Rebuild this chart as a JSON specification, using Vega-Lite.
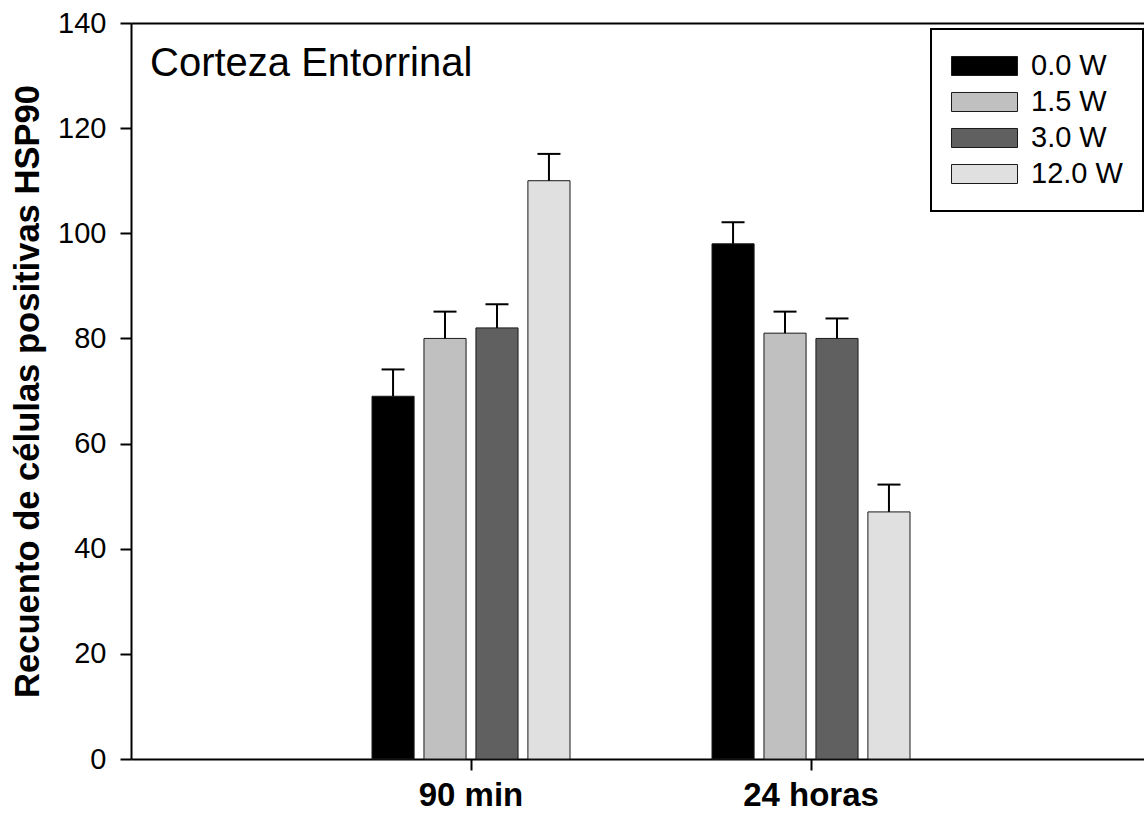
{
  "$schema": "https://vega.github.io/schema/vega-lite/v6.json",
  "autosize": {"type": "none"},
  "padding": {"left": 131, "top": 23, "right": 0, "bottom": 59},
  "width": 1013,
  "height": 736,
  "background": "white",
  "config": {
    "view": {"stroke": null},
    "font": "Liberation Sans",
    "axis": {
      "domainColor": "black",
      "domainWidth": 2,
      "tickColor": "black",
      "tickWidth": 2,
      "tickSize": 11,
      "labelColor": "black",
      "titleColor": "black",
      "labelFont": "Liberation Sans",
      "titleFont": "Liberation Sans",
      "grid": false
    },
    "legend": {
      "orient": "none",
      "legendX": 800,
      "legendY": 6,
      "padding": 20,
      "strokeColor": "black",
      "strokeWidth": 2,
      "fillColor": "white",
      "symbolType": "M-1,-0.288H1V0.288H-1Z",
      "symbolSize": 4356,
      "symbolStrokeColor": "#1a1a1a",
      "symbolStrokeWidth": 1,
      "symbolOpacity": 1,
      "clipHeight": 34,
      "rowPadding": 2,
      "labelFont": "Liberation Sans",
      "labelFontSize": 29,
      "labelColor": "black",
      "labelOffset": 13,
      "labelLimit": 300
    }
  },
  "datasets": {
    "medidas": [
      {"tiempo": "90 min", "potencia": "0.0 W", "valor": 69, "sup": 74.1},
      {"tiempo": "90 min", "potencia": "1.5 W", "valor": 80, "sup": 85.1},
      {"tiempo": "90 min", "potencia": "3.0 W", "valor": 82, "sup": 86.5},
      {"tiempo": "90 min", "potencia": "12.0 W", "valor": 110, "sup": 115.1},
      {"tiempo": "24 horas", "potencia": "0.0 W", "valor": 98, "sup": 102.1},
      {"tiempo": "24 horas", "potencia": "1.5 W", "valor": 81, "sup": 85.1},
      {"tiempo": "24 horas", "potencia": "3.0 W", "valor": 80, "sup": 83.8},
      {"tiempo": "24 horas", "potencia": "12.0 W", "valor": 47, "sup": 52.2}
    ],
    "rotulo": [
      {"texto": "Corteza Entorrinal", "nivel": 129.9}
    ]
  },
  "layer": [
    {
      "data": {"name": "medidas"},
      "mark": {"type": "bar", "stroke": "#1a1a1a", "strokeWidth": 1},
      "encoding": {
        "x": {
          "field": "tiempo",
          "type": "nominal",
          "sort": ["90 min", "24 horas"],
          "scale": {"range": [0, 1020], "paddingInner": 0, "paddingOuter": 0.5},
          "axis": {
            "orient": "bottom",
            "title": null,
            "labelAngle": 0,
            "labelFontSize": 33,
            "labelFontWeight": "bold",
            "labelPadding": 9,
            "labelBaseline": "top"
          }
        },
        "xOffset": {
          "field": "potencia",
          "type": "nominal",
          "sort": ["0.0 W", "1.5 W", "3.0 W", "12.0 W"],
          "scale": {"range": [71, 269], "paddingInner": 0.19, "paddingOuter": 0}
        },
        "y": {
          "field": "valor",
          "type": "quantitative",
          "scale": {"domain": [0, 140], "nice": false, "zero": true},
          "axis": {
            "title": "Recuento de células positivas HSP90",
            "values": [0, 20, 40, 60, 80, 100, 120, 140],
            "labelFontSize": 29,
            "labelPadding": 14,
            "titleFontSize": 34.6,
            "titleFontWeight": "bold",
            "titlePadding": 12
          }
        },
        "color": {
          "field": "potencia",
          "type": "nominal",
          "sort": ["0.0 W", "1.5 W", "3.0 W", "12.0 W"],
          "scale": {
            "domain": ["0.0 W", "1.5 W", "3.0 W", "12.0 W"],
            "range": ["#000000", "#c0c0c0", "#606060", "#e0e0e0"]
          },
          "legend": {"title": null}
        }
      }
    },
    {
      "data": {"name": "medidas"},
      "mark": {"type": "rule", "color": "black", "strokeWidth": 2},
      "encoding": {
        "x": {
          "field": "tiempo",
          "type": "nominal",
          "sort": ["90 min", "24 horas"],
          "scale": {"range": [0, 1020], "paddingInner": 0, "paddingOuter": 0.5},
          "axis": {
            "orient": "top",
            "title": null,
            "labels": false,
            "ticks": false,
            "domain": true
          }
        },
        "xOffset": {
          "field": "potencia",
          "type": "nominal",
          "sort": ["0.0 W", "1.5 W", "3.0 W", "12.0 W"],
          "scale": {"range": [71, 269], "paddingInner": 0.19, "paddingOuter": 0}
        },
        "y": {"field": "valor", "type": "quantitative"},
        "y2": {"field": "sup"}
      }
    },
    {
      "data": {"name": "medidas"},
      "mark": {"type": "tick", "color": "black", "thickness": 2, "size": 23, "opacity": 1},
      "encoding": {
        "x": {
          "field": "tiempo",
          "type": "nominal",
          "sort": ["90 min", "24 horas"],
          "scale": {"range": [0, 1020], "paddingInner": 0, "paddingOuter": 0.5},
          "axis": null
        },
        "xOffset": {
          "field": "potencia",
          "type": "nominal",
          "sort": ["0.0 W", "1.5 W", "3.0 W", "12.0 W"],
          "scale": {"range": [71, 269], "paddingInner": 0.19, "paddingOuter": 0}
        },
        "y": {"field": "sup", "type": "quantitative"}
      }
    },
    {
      "data": {"name": "rotulo"},
      "mark": {
        "type": "text",
        "align": "left",
        "baseline": "alphabetic",
        "dx": 19,
        "font": "Liberation Sans",
        "fontSize": 40,
        "color": "black"
      },
      "encoding": {
        "x": {"value": 0},
        "y": {"field": "nivel", "type": "quantitative"},
        "text": {"field": "texto"}
      }
    }
  ],
  "resolve": {"axis": {"x": "independent"}}
}
